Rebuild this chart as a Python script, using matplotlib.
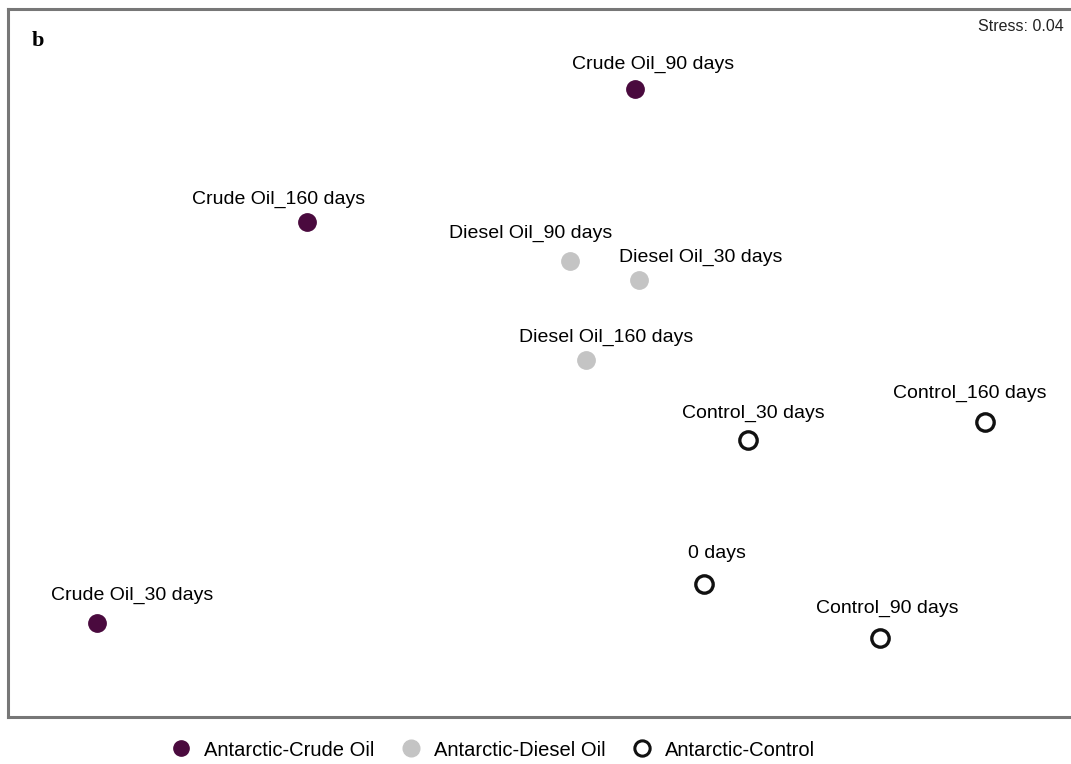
import matplotlib
matplotlib.use("Agg")
import matplotlib.pyplot as plt
from matplotlib.lines import Line2D

plt.rcParams['font.family'] = ['Liberation Sans', 'DejaVu Sans']

# NMDS coordinates
crude_labels = ["Crude Oil_90 days", "Crude Oil_160 days", "Crude Oil_30 days"]
crude_x = [0.380, -0.932, -1.772]
crude_y = [1.244, 0.712, -0.892]

diesel_labels = ["Diesel Oil_90 days", "Diesel Oil_30 days", "Diesel Oil_160 days"]
diesel_x = [0.120, 0.396, 0.184]
diesel_y = [0.556, 0.480, 0.160]

control_labels = ["Control_30 days", "Control_160 days", "Control_90 days", "0 days"]
control_x = [0.832, 1.780, 1.360, 0.656]
control_y = [-0.160, -0.088, -0.952, -0.736]

legend_labels = ["Antarctic-Crude Oil", "Antarctic-Diesel Oil", "Antarctic-Control"]
stress_text = "Stress: 0.04"
panel_letter = "b"

# label offsets (pixels)
crude_off = [(18, 25), (-28, 23), (35, 28)]
diesel_off = [(-39, 28), (62, 23), (20, 23)]
control_off = [(5, 27), (-15, 29), (7, 30), (13, 30)]

crude_color = "#4a0a3e"
diesel_color = "#c4c4c4"

fig = plt.figure(figsize=(10.71, 7.64), dpi=100)
ax = fig.add_axes([8/1071, 47/764, 1067/1071, 708/764])
ax.set_xlim(-2.128, 2.14)
ax.set_ylim(-1.268, 1.564)
ax.set_xticks([]); ax.set_yticks([])
for s in ax.spines.values():
    s.set_color("#777777")
    s.set_linewidth(2.2)

ms = 12.5
ax.plot(crude_x, crude_y, 'o', color=crude_color, ms=ms, mec=crude_color, zorder=3)
ax.plot(diesel_x, diesel_y, 'o', color=diesel_color, ms=ms, mec=diesel_color, zorder=3)
ax.plot(control_x, control_y, 'o', mfc='white', mec='#111111', mew=2.4, ms=12.5, zorder=3)

for labs, xs, ys, offs in [(crude_labels, crude_x, crude_y, crude_off),
                           (diesel_labels, diesel_x, diesel_y, diesel_off),
                           (control_labels, control_x, control_y, control_off)]:
    for lab, x, y, (dx, dy) in zip(labs, xs, ys, offs):
        ax.annotate(lab, (x, y), xytext=(dx, dy), textcoords='offset pixels',
                    ha='center', va='center', fontsize=14, color='black')

ax.text(0.989, 0.975, stress_text, transform=ax.transAxes, ha='right', va='center',
        fontsize=11.5, color='#222222')
ax.text(0.028, 0.955, panel_letter, transform=ax.transAxes, ha='center', va='center',
        fontsize=16, fontweight='bold', family='Liberation Serif')

handles = [
    Line2D([], [], ls='none', marker='o', color=crude_color, ms=11),
    Line2D([], [], ls='none', marker='o', color=diesel_color, ms=12),
    Line2D([], [], ls='none', marker='o', mfc='white', mec='#111111', mew=2.2, ms=11),
]
fig.legend(handles, legend_labels, loc='center', bbox_to_anchor=(492/1071, 1 - 750/764),
           ncol=3, frameon=False, fontsize=14.5, handletextpad=0.55, columnspacing=1.2,
           handlelength=1.2)

fig.savefig("out.png", dpi=100)
